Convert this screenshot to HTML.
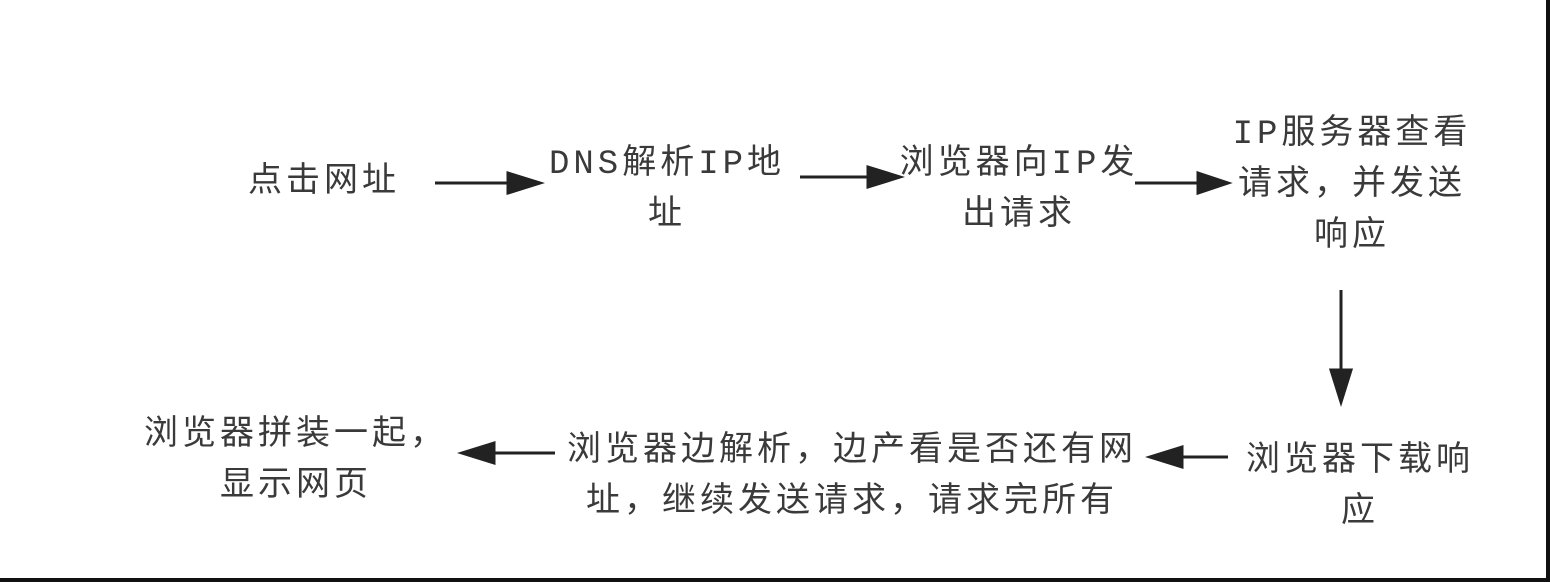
<!DOCTYPE html>
<html><head><meta charset="utf-8"><style>
html,body{margin:0;padding:0}
body{width:1550px;height:582px;position:relative;background:#fff;overflow:hidden}
.frame{position:absolute;left:0;top:0;width:1546px;height:578px;border-right:4px solid #111;border-bottom:4px solid #111}
.t{position:absolute;transform:translateX(-50%);white-space:nowrap;text-align:center;color:#3a3a3a;font-family:"Liberation Mono","Noto Sans CJK SC",monospace;font-size:34px;line-height:51px;letter-spacing:4px}
svg{position:absolute;left:0;top:0}
</style></head><body>
<div class="frame"></div>
<svg width="1550" height="582">
<g stroke="#222" stroke-width="3" fill="#222">
<line x1="435" y1="183" x2="510" y2="183"/><path d="M508,173 L540,183 L508,193 z"/>
<line x1="800" y1="177" x2="870" y2="177"/><path d="M868,167 L900,177 L868,187 z"/>
<line x1="1135" y1="183" x2="1200" y2="183"/><path d="M1198,173 L1228,183 L1198,193 z"/>
<line x1="1341" y1="290" x2="1341" y2="372"/><path d="M1331,370 L1341,402 L1351,370 z"/>
<line x1="1228" y1="457" x2="1180" y2="457"/><path d="M1182,447 L1150,457 L1182,467 z"/>
<line x1="555" y1="453" x2="492" y2="453"/><path d="M494,443 L462,453 L494,463 z"/>
</g>
</svg>
<div class="t" style="left:324px;top:158px">点击网址</div>
<div class="t" style="left:667px;top:140px">DNS解析IP地<br>址</div>
<div class="t" style="left:1019px;top:140px">浏览器向IP发<br>出请求</div>
<div class="t" style="left:1352px;top:110px">IP服务器查看<br>请求，并发送<br>响应</div>
<div class="t" style="left:1360px;top:437px">浏览器下载响<br>应</div>
<div class="t" style="left:852px;top:427px">浏览器边解析，边产看是否还有网<br>址，继续发送请求，请求完所有</div>
<div class="t" style="left:296px;top:411px">浏览器拼装一起，<br>显示网页</div>
</body></html>
